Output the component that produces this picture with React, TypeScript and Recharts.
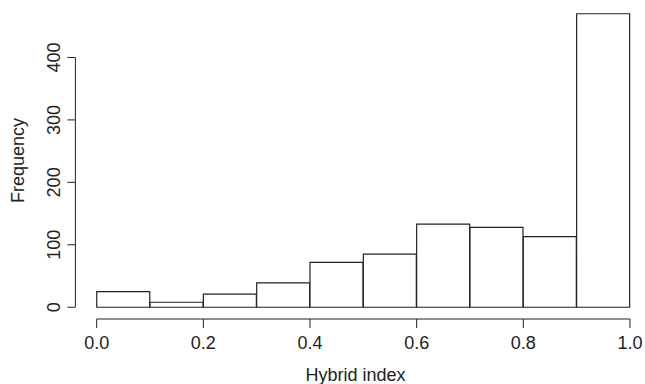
import React from "react";
import { ComposedChart, Bar, XAxis, YAxis, ReferenceLine, Label } from "recharts";

const binMids = [0.05, 0.15, 0.25, 0.35, 0.45, 0.55, 0.65, 0.75, 0.85, 0.95];
const frequencies = [25, 8, 21, 39, 72, 85, 133, 128, 113, 470];
const xTicks = [0, 0.2, 0.4, 0.6, 0.8, 1.0];
const yTicks = [0, 100, 200, 300, 400];
const xTitle = "Hybrid index";
const yTitle = "Frequency";

const data = binMids.map((m, i) => ({ mid: m, freq: frequencies[i] }));

const FONT = "'Liberation Sans', Arial, Helvetica, sans-serif";
const INK = "#222";

const XTick = (props: any) => {
  const { x, payload } = props;
  return (
    <text x={x} y={349} textAnchor="middle" fontFamily={FONT} fontSize={18} fill={INK}>
      {Number(payload.value).toFixed(1)}
    </text>
  );
};

const YTick = (props: any) => {
  const { y, payload } = props;
  const bx = 60;
  return (
    <text
      x={bx}
      y={y}
      transform={`rotate(-90, ${bx}, ${y})`}
      textAnchor="middle"
      fontFamily={FONT}
      fontSize={18}
      fill={INK}
    >
      {payload.value}
    </text>
  );
};

export default function App() {
  return (
    <div style={{ position: "absolute", left: 0, top: 0, background: "#fff" }}>
      <ComposedChart
        width={645}
        height={384}
        data={data}
        margin={{ top: 2, right: 0, bottom: 0, left: 0 }}
        barCategoryGap={0}
        barGap={0}
      >
        <XAxis
          dataKey="mid"
          type="number"
          domain={[-0.04, 1.0282]}
          allowDataOverflow
          ticks={xTicks}
          height={65}
          axisLine={false}
          tickSize={9}
          tickLine={{ stroke: INK, strokeWidth: 1 }}
          tick={<XTick />}
          interval={0}
        >
          <Label
            content={() => (
              <text x={355.5} y={381} textAnchor="middle" fontFamily={FONT} fontSize={18} fill={INK}>
                {xTitle}
              </text>
            )}
          />
        </XAxis>
        <YAxis
          type="number"
          domain={[-18.8, 488.8]}
          allowDataOverflow
          ticks={yTicks}
          width={75.4}
          axisLine={false}
          tickSize={8}
          tickLine={{ stroke: INK, strokeWidth: 1 }}
          tick={<YTick />}
          interval={0}
        >
          <Label
            content={() => (
              <text
                x={24}
                y={160.5}
                transform="rotate(-90, 24, 160.5)"
                textAnchor="middle"
                fontFamily={FONT}
                fontSize={18}
                fill={INK}
              >
                {yTitle}
              </text>
            )}
          />
        </YAxis>
        <Bar
          dataKey="freq"
          fill="#ffffff"
          stroke={INK}
          strokeWidth={1.2}
          isAnimationActive={false}
        />
        <ReferenceLine
          segment={[
            { x: xTicks[0], y: -18.8 },
            { x: xTicks[xTicks.length - 1], y: -18.8 },
          ]}
          stroke={INK}
          strokeWidth={1}
          ifOverflow="visible"
        />
        <ReferenceLine
          segment={[
            { x: -0.04, y: yTicks[0] },
            { x: -0.04, y: yTicks[yTicks.length - 1] },
          ]}
          stroke={INK}
          strokeWidth={1}
          ifOverflow="visible"
        />
      </ComposedChart>
    </div>
  );
}
